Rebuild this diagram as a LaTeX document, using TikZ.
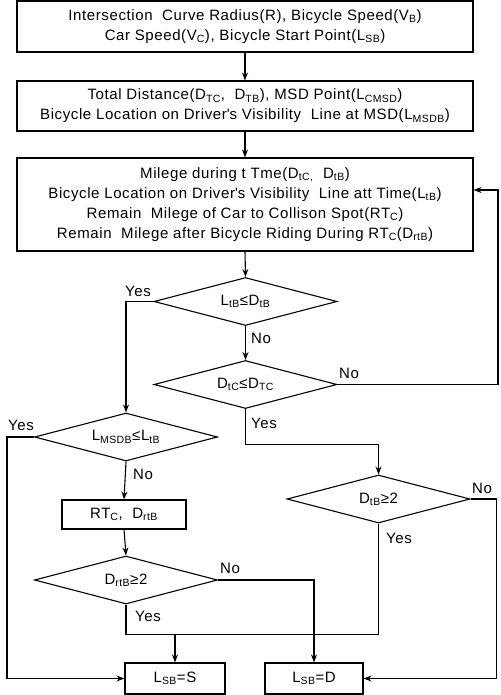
\documentclass[tikz,border=0pt]{standalone}
\usepackage{fontspec}
\setmainfont{Liberation Sans}[LetterSpace=4]
\usetikzlibrary{arrows.meta,shapes.geometric,positioning}
\newcommand{\lo}[1]{\textsubscript{#1}}
\tikzset{
  basic/.style    = {draw, line width=1.1pt, font=\fontsize{15}{20}\selectfont},
  box/.style      = {basic, rectangle, align=center, inner sep=2pt},
  decision/.style = {basic, diamond, aspect=3.7, inner sep=1pt},
  answer/.style   = {font=\fontsize{15}{18}\selectfont, inner sep=1pt}
}

\begin{document}
\begin{tikzpicture}[x=1pt, y=-1pt, line width=1.1pt,
    >={Stealth[length=8pt,width=6pt]}]
  \useasboundingbox (0,0) rectangle (500,695);

  % input and computed values, top to bottom
  \node[box, minimum width=456, minimum height=51] (in) at (245,26.5)
    {Intersection\ \ Curve Radius(R), Bicycle Speed(V\lo{B})\\
     Car Speed(V\lo{C}), Bicycle Start Point(L\lo{SB})};
  \node[box, minimum width=456, minimum height=50] (dist) at (245,106)
    {Total Distance(D\lo{TC},\ \ D\lo{TB}), MSD Point(L\lo{CMSD})\\
     Bicycle Location on Driver\textquotesingle s Visibility\ \ Line at MSD(L\lo{MSDB})};
  \node[box, minimum width=456, minimum height=93] (mil) at (245,204.5)
    {Milege during t Tme(D\lo{tC,}\ \ D\lo{tB})\\
     Bicycle Location on Driver\textquotesingle s Visibility\ \ Line att Time(L\lo{tB})\\
     Remain\ \ Milege of Car to Collison Spot(RT\lo{C})\\
     Remain\ \ Milege after Bicycle Riding During RT\lo{C}(D\lo{rtB})};

  % decisions
  \begin{scope}[every node/.append style={minimum width=183, minimum height=48}]
  \node[decision] (d1) at (245.5,301.5) {L\lo{tB}≤D\lo{tB}};
  \node[decision] (d2) at (245.5,384.5) {D\lo{tC}≤D\lo{TC}};
  \node[decision] (d3) at (126,437) {L\lo{MSDB}≤L\lo{tB}};
  \node[decision] (d4) at (378.5,499) {D\lo{tB}≥2};
  \node[decision] (d5) at (126,580) {D\lo{rtB}≥2};
  \end{scope}

  \node[box, minimum width=124, minimum height=29] (rt) at (124,514.5) {RT\lo{C},\ \ D\lo{rtB}};

  % results
  \node[box, minimum width=100, minimum height=31] (S) at (175,678.5) {L\lo{SB}=S};
  \node[box, minimum width=98, minimum height=31] (D) at (314,678.5) {L\lo{SB}=D};

  % yes / no labels
  \node[answer] (y1) at (138,291) {Yes};
  \node[answer] (n1) at (261,338) {No};
  \node[answer] (n2) at (349,373) {No};
  \node[answer] (y2) at (264,423) {Yes};
  \node[answer] (y3) at (21,425) {Yes};
  \node[answer] (n3) at (143,474) {No};
  \node[answer] (n5) at (230,568) {No};
  \node[answer] (y5) at (148,616) {Yes};
  \node[answer] (n4) at (482,488) {No};
  \node[answer] (y4) at (399,538) {Yes};

  \coordinate (back) at (498,190);
  \coordinate (rail) at (7,0);

  % connectors
  \foreach \a/\b in {in/dist, dist/mil, mil/d1, d1/d2, d3/rt, rt/d5}
    \draw[->] (\a.south) -- (\b.north);

  \draw[->] (d1.west) -| (d3.north);
  \draw[->] (d2.east) -| (back) -- (mil.east |- back);
  \draw[->] (d2.south) -- ++(0,35) -| (d4.north);
  \draw[->] (d3.west) -- (d3.west -| rail) |- (S.west);
  \draw[->] (d5.east) -| (D.north);
  \draw (d5.south) -- ++(0,30) coordinate (merge) -| (d4.south);
  \draw[->] (S.north |- merge) -- (S.north);
  \draw[->] (d4.east) -- ++(26,0) |- (D.east);
\end{tikzpicture}
\end{document}
